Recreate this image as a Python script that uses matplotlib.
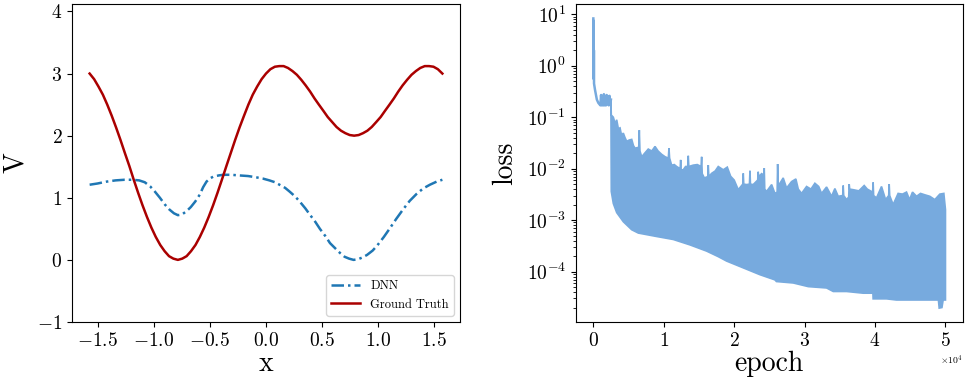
import numpy as np
import matplotlib
matplotlib.use('Agg')
import matplotlib.pyplot as plt

plt.rcParams['font.family'] = 'serif'
plt.rcParams['font.serif'] = ['cmr10', 'DejaVu Serif']
plt.rcParams['mathtext.fontset'] = 'cm'
plt.rcParams['axes.formatter.use_mathtext'] = True
plt.rcParams['axes.unicode_minus'] = True

# ---- left panel: potential V(x) ----
gt_x = [-1.571, -1.531, -1.492, -1.453, -1.414, -1.374, -1.335, -1.296, -1.257,
        -1.217, -1.178, -1.139, -1.100, -1.060, -1.021, -0.982, -0.942, -0.903,
        -0.864, -0.825, -0.785, -0.746, -0.707, -0.668, -0.628, -0.589, -0.550,
        -0.511, -0.471, -0.432, -0.393, -0.353, -0.314, -0.275, -0.236, -0.196,
        -0.157, -0.118, -0.079, -0.039, 0.000, 0.039, 0.079, 0.118, 0.157,
        0.196, 0.236, 0.275, 0.314, 0.353, 0.393, 0.432, 0.471, 0.511, 0.550,
        0.589, 0.628, 0.668, 0.707, 0.746, 0.785, 0.825, 0.864, 0.903, 0.942,
        0.982, 1.021, 1.060, 1.100, 1.139, 1.178, 1.217, 1.257, 1.296, 1.335,
        1.374, 1.414, 1.453, 1.492, 1.531, 1.571]
gt_v = [3.00, 2.91, 2.79, 2.66, 2.50, 2.32, 2.13, 1.93, 1.72, 1.51, 1.29, 1.08,
        0.88, 0.69, 0.52, 0.37, 0.24, 0.14, 0.06, 0.02, 0.00, 0.02, 0.06, 0.14,
        0.24, 0.37, 0.52, 0.69, 0.88, 1.08, 1.29, 1.51, 1.72, 1.93, 2.13, 2.32,
        2.50, 2.66, 2.79, 2.91, 3.00, 3.07, 3.11, 3.12, 3.12, 3.09, 3.04, 2.98,
        2.90, 2.81, 2.71, 2.60, 2.50, 2.40, 2.30, 2.22, 2.14, 2.08, 2.04, 2.01,
        2.00, 2.01, 2.04, 2.08, 2.14, 2.22, 2.30, 2.40, 2.50, 2.60, 2.71, 2.81,
        2.90, 2.98, 3.04, 3.09, 3.12, 3.12, 3.11, 3.07, 3.00]

dnn_x = [-1.571, -1.50, -1.42, -1.34, -1.26, -1.19, -1.13, -1.08, -1.03, -0.99,
         -0.945, -0.90, -0.86, -0.82, -0.785, -0.75, -0.71, -0.67, -0.63, -0.59,
         -0.56, -0.53, -0.50, -0.47, -0.42, -0.38, -0.31, -0.24, -0.16, -0.09,
         -0.03, 0.03, 0.08, 0.12, 0.17, 0.21, 0.26, 0.30, 0.35, 0.39, 0.44, 0.48,
         0.53, 0.57, 0.62, 0.66, 0.70, 0.74, 0.78, 0.82, 0.86, 0.90, 0.95, 0.99,
         1.05, 1.10, 1.16, 1.22, 1.28, 1.34, 1.40, 1.46, 1.52, 1.571]
dnn_v = [1.21, 1.23, 1.26, 1.28, 1.29, 1.29, 1.28, 1.25, 1.18, 1.10, 1.00, 0.89,
         0.81, 0.75, 0.72, 0.73, 0.78, 0.85, 0.94, 1.05, 1.17, 1.26, 1.31, 1.34,
         1.36, 1.37, 1.37, 1.36, 1.35, 1.33, 1.31, 1.28, 1.25, 1.21, 1.16, 1.10,
         1.02, 0.94, 0.83, 0.73, 0.61, 0.50, 0.38, 0.27, 0.18, 0.11, 0.05, 0.02,
         0.00, 0.01, 0.04, 0.08, 0.15, 0.23, 0.37, 0.50, 0.66, 0.81, 0.95, 1.06,
         1.15, 1.21, 1.26, 1.29]

# ---- right panel: training loss ----
# early phase, drawn as a line
early_ep = [0, 20, 40, 60, 80, 100, 240, 500, 710, 1000, 1100, 1200, 1300, 1400,
            1500, 1600, 1700, 1800, 1900, 2000, 2100, 2200, 2300, 2400, 2500]
early_loss = [8.3, 0.6, 7.5, 0.55, 2.0, 0.45, 0.34, 0.22, 0.19, 0.17, 0.27, 0.17,
              0.21, 0.17, 0.28, 0.17, 0.23, 0.17, 0.27, 0.18, 0.25, 0.17, 0.26,
              0.18, 0.22]

# oscillating phase: upper and lower envelope of the loss
up_ep = [2500, 2550, 2840, 3100, 3320, 3550, 3790, 4000, 4260, 4500, 4740, 5100,
         5450, 5700, 5920, 6450, 6530, 6620, 6870, 7300, 7800, 8300, 8760, 9200,
         9700, 10200, 10650, 10740, 10830, 11120, 11500, 11830, 12330, 12400,
         12470, 12770, 13100, 13400, 13480, 13560, 14190, 14760, 15300, 15380,
         15460, 15760, 16250, 16320, 16400, 16800, 17300, 17740, 18450, 19020,
         19500, 20000, 20580, 21220, 21290, 21360, 21770, 22170, 22240, 22310,
         22700, 23340, 23410, 23480, 23900, 24200, 24270, 24340, 24600, 25320,
         25780, 26100, 26170, 26240, 26500, 26960, 27440, 28150, 28760, 29100,
         29570, 30280, 30900, 31460, 32000, 32410, 33120, 33830, 34300, 34770,
         35410, 35480, 35550, 35960, 36260, 36330, 36400, 36900, 37700, 38460,
         38900, 39660, 39730, 39800, 40210, 40920, 41500, 41940, 42010, 42080,
         42570, 43280, 43900, 44470, 44900, 45320, 45900, 46460, 47070, 47780,
         48490, 49200, 49770, 50000]
up_loss = [0.22, 0.11, 0.10, 0.075, 0.089, 0.06, 0.062, 0.045, 0.049, 0.04,
           0.034, 0.036, 0.037, 0.028, 0.025, 0.026, 0.056, 0.022, 0.017, 0.02,
           0.024, 0.022, 0.027, 0.022, 0.019, 0.017, 0.016, 0.025, 0.016, 0.0117,
           0.012, 0.011, 0.010, 0.0148, 0.0095, 0.0095, 0.011, 0.011, 0.0178,
           0.011, 0.0117, 0.012, 0.011, 0.017, 0.008, 0.0066, 0.007, 0.0117,
           0.007, 0.0081, 0.009, 0.011, 0.0095, 0.0107, 0.0071, 0.006, 0.0039,
           0.005, 0.0081, 0.005, 0.0049, 0.005, 0.0091, 0.005, 0.0049, 0.006,
           0.0087, 0.007, 0.008, 0.0075, 0.0102, 0.004, 0.0036, 0.0049, 0.0033,
           0.0035, 0.0123, 0.005, 0.0052, 0.0066, 0.0042, 0.0056, 0.0063, 0.004,
           0.0033, 0.0045, 0.004, 0.0052, 0.0045, 0.0033, 0.0044, 0.0029, 0.0041,
           0.0029, 0.003, 0.0047, 0.003, 0.0025, 0.0028, 0.005, 0.004, 0.0039,
           0.0037, 0.0047, 0.004, 0.0035, 0.0054, 0.003, 0.0027, 0.0045, 0.0025,
           0.003, 0.005, 0.003, 0.002, 0.0033, 0.0032, 0.0035, 0.0025, 0.0035,
           0.0029, 0.0033, 0.0031, 0.0029, 0.0025, 0.0032, 0.0033, 0.0016]

lo_ep = [2500, 2550, 2840, 3320, 4260, 5450, 6390, 9000, 11360, 13720, 16080,
         17740, 18920, 21290, 23650, 25780, 26000, 28390, 30520, 33120, 34070,
         35960, 38320, 39700, 39730, 41620, 43040, 47780, 49000, 49110, 49500,
         49670, 50000]
lo_loss = [0.17, 0.0036, 0.0021, 0.0014, 0.00093, 0.00065, 0.00056, 0.00048,
           0.00042, 0.00033, 0.00025, 0.000195, 0.00016, 0.000118, 0.000087,
           0.000069, 0.000064, 0.00006, 0.000051, 0.000048, 0.000041, 0.000041,
           0.000038, 0.000038, 0.0000295, 0.0000295, 0.000028, 0.000028,
           0.000028, 0.0000195, 0.00002, 0.000028, 0.000028]

loss_color = '#77aade'

fig = plt.figure(figsize=(9.65, 3.81), dpi=100)
ax1 = fig.add_axes([0.0746, 0.1549, 0.4021, 0.8346])
ax2 = fig.add_axes([0.5966, 0.1549, 0.4014, 0.8346])

ax1.plot(dnn_x, dnn_v, linestyle=(0, (5, 1.6, 1, 1.6)), color='#1f77b4',
         linewidth=1.8, label='DNN')
ax1.plot(gt_x, gt_v, '-', color='#aa0000', linewidth=1.8, label='Ground Truth')
ax1.set_ylim(-1, 4.12)
ax1.set_xticks([-1.5, -1.0, -0.5, 0.0, 0.5, 1.0, 1.5])
ax1.set_yticks([-1, 0, 1, 2, 3, 4])
ax1.set_xlabel('x', fontsize=20, labelpad=1)
ax1.set_ylabel('V', fontsize=20, labelpad=6)
ax1.tick_params(labelsize=14)
ax1.legend(loc='lower right', fontsize=9, handlelength=2.3)

ax2.plot(early_ep, early_loss, '-', color=loss_color, linewidth=1.8)
poly_x = np.concatenate([up_ep, lo_ep[::-1]])
poly_y = np.concatenate([up_loss, lo_loss[::-1]])
ax2.fill(poly_x, poly_y, facecolor=loss_color, edgecolor=loss_color,
         linewidth=1.2)
ax2.set_yscale('log')
ax2.set_ylim(10 ** -4.98, 10 ** 1.2)
ax2.set_xlim(-2500, 52500)
ax2.set_xticks([0, 10000, 20000, 30000, 40000, 50000])
ax2.ticklabel_format(style='sci', axis='x', scilimits=(0, 0))
ax2.xaxis.get_offset_text().set_fontsize(7)
ax2.set_xlabel('epoch', fontsize=20, labelpad=1)
ax2.set_ylabel('loss', fontsize=20, labelpad=6)
ax2.tick_params(labelsize=14)

fig.savefig('out.png', dpi=100)
